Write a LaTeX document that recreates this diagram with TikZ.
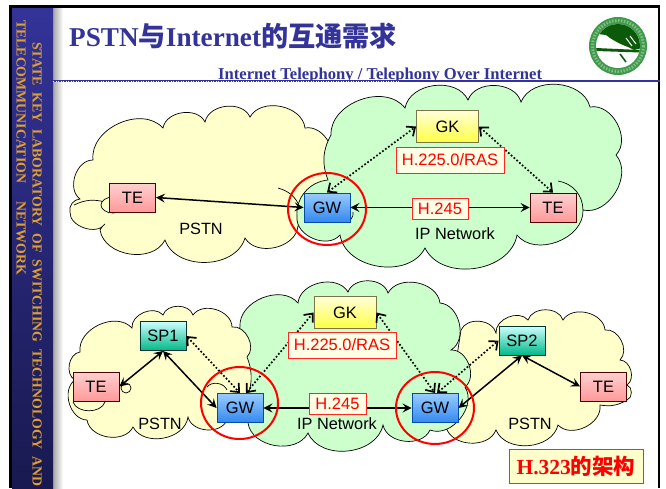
\documentclass[tikz,border=0pt]{standalone}
\usepackage{fontspec}
\setmainfont{Liberation Serif}
\newfontfamily\arialf{Liberation Sans}
\newfontfamily\cjkf{Noto Sans CJK SC}
\usetikzlibrary{arrows.meta,shadings}
\definecolor{navy}{HTML}{333399}
\definecolor{navyd}{HTML}{191950}
\definecolor{gold}{HTML}{E0A030}
\definecolor{cloudy}{HTML}{FFFFCC}
\definecolor{cloudg}{HTML}{CCFFCC}
\definecolor{logog}{HTML}{3F9A4A}
\definecolor{logod}{HTML}{0A5A0A}
\tikzset{
  bump/.style={bend left=72,looseness=1.05},
  ycloud/.style={draw=black,fill=cloudy,line width=0.7pt},
  gcloud/.style={draw=black,fill=cloudg,line width=0.7pt},
  crease/.style={draw=black,line width=0.7pt},
  box/.style={minimum width=46pt,minimum height=29pt,inner sep=0pt,line width=0.9pt,
    font=\arialf\fontsize{16.5}{18}\selectfont,text=black},
  pinkbox/.style={box,draw=black!70!red,top color=FFD0D0,bottom color=FF9999},
  bluebox/.style={box,draw=black!50!blue!70!cyan,top color=99CCFF,bottom color=3388F0},
  yellowbox/.style={box,draw=black!60!yellow,top color=FFFFD8,bottom color=FFFF44,minimum width=62pt,minimum height=32pt},
  tealbox/.style={box,draw=black!60!teal,top color=CCFFFF,bottom color=00B888},
  tag/.style={draw=red!85!white,fill=cloudy!50!white,text=red,line width=0.8pt,inner sep=0pt,
    font=\arialf\fontsize{16.5}{18}\selectfont},
  solidarrow/.style={{Stealth[length=9pt,width=9pt,inset=3.5pt]}-{Stealth[length=9pt,width=9pt,inset=3.5pt]},line width=1.5pt,black},
  dotarrow/.style={{Straight Barb[length=7pt,width=12pt]}-{Straight Barb[length=7pt,width=12pt]},line width=1.7pt,dash pattern=on 1.7pt off 2pt,black},
  ring/.style={draw=red,line width=2pt},
  netlabel/.style={font=\arialf\fontsize{16.3}{18}\selectfont,text=black,inner sep=0pt},
  sidetext/.style={rotate=-90,anchor=west,inner sep=0pt,text=gold,font=\bfseries\fontsize{13.8}{15}\selectfont},
}
\definecolor{FFD0D0}{HTML}{FFD0D0}
\definecolor{FF9999}{HTML}{FF9999}
\definecolor{99CCFF}{HTML}{99CCFF}
\definecolor{3388F0}{HTML}{3388F0}
\definecolor{FFFFD8}{HTML}{FFFFD8}
\definecolor{FFFF44}{HTML}{FFFF44}
\definecolor{CCFFFF}{HTML}{CCFFFF}
\definecolor{00B888}{HTML}{00B888}
\begin{document}
\begin{tikzpicture}[x=1pt,y=-1pt]
\useasboundingbox (0,0) rectangle (666,488);
\fill[white] (0,0) rectangle (666,488);
% frame
\shade[left color=black!35,right color=white] (53,8) rectangle (63,488);
\fill[black] (9,5) rectangle (660,8);
\fill[black] (658,5) rectangle (660,488);
\shade[top color=navy,bottom color=navyd] (12,8) rectangle (53,488);
\fill[black] (9,5) rectangle (12,488);
% sidebar text
\node[sidetext] (side1) at (37,42) {STATE\hspace{7pt}KEY\hspace{7pt}LABORATORY\hspace{7pt}OF\hspace{7pt}SWITCHING\hspace{7pt}TECHNOLOGY\hspace{7pt}AND};
\node[sidetext] (side2) at (21,20) {TELECOMMUNICATION\hspace{18pt}NETWORK};
% title
\node[anchor=base west,inner sep=0pt,text=navy,font=\bfseries\fontsize{27.2}{30}\selectfont] (title) at (69,46)
  {PSTN{\cjkf\bfseries 与}Internet{\cjkf\bfseries 的互通需求}};
\node[anchor=base west,inner sep=0pt,text=navy,font=\bfseries\fontsize{16.6}{18}\selectfont] (sub) at (218,79)
  {Internet Telephony / Telephony Over Internet};
\fill[white] (200,81) rectangle (600,90);
\draw[navy,line width=2.6pt] (53,81) -- (660,81);
\draw[white,line width=0.5pt,dash pattern=on 1pt off 1.5pt] (53,81) -- (400,81);
% logo
\fill[logog] (618,46) circle (29);
\draw[white!35!logog,line width=3pt,dash pattern=on 1.5pt off 1.5pt] (618,46) circle (25.5);
\fill[white] (618,46) circle (22);
\begin{scope}
\clip (618,46) circle (22);
\fill[logod] (598,34) -- (598,20) -- (642,20) -- (642,48) -- (634,50) -- (628,47) .. controls (622,45) and (612,40) .. (606,35) -- cycle;
\draw[white,line width=1pt] (636,44) -- (630,36);
\draw[white,line width=1pt] (632,46) -- (626,38);
\fill[logod] (596,48) -- (640,50) -- (640,52.5) -- (596,51) -- cycle;
\draw[logod,line width=1.6pt] (620,54) -- (626,62);
\end{scope}
% clouds: top
\draw[ycloud] (80,199) to[bump] (93,160) to[bump] (163,128) to[bump] (205,122) to[bump] (250,117) to[bump] (305,128)
  to[bump] (328,170) to[bump] (298,226) to[bump] (245,238) to[bump] (165,240) to[bump] (100,230) to[bend left=10] (105,224) to[bend left=75] (70,212) to[bend left=50] cycle;
\draw[crease] (74,205) to[bend left=20] (105,202);
\draw[crease] (278,188) to[bend left=25] (300,207);
\draw[ycloud] (113,205) ellipse (12 and 8);
\draw[gcloud] (331,135) to[bump] (405,108) to[bump] (468,100) to[bump] (521,102) to[bump] (590,107) to[bump] (616,155)
  to[bump] (583,210) to[bump] (517,235) to[bump] (425,248) to[bump] (340,235) to[bump] (297,217) to[bend left=45] (328,180) to[bend left=25] cycle;
\draw[crease] (558,181) to[bend left=40] (583,210);
\draw[crease] (353,212) to[bend left=50] (345,222);
% clouds: bottom
\draw[ycloud] (461,330) to[bump] (496,333) to[bump] (528,320) to[bump] (563,320) to[bump] (605,330) to[bump] (620,360)
  to[bump] (627,385) to[bump] (627,400) to[bend left=20] (600,405) to[bump] (558,425) to[bump] (496,430) to[bump] (446,427) -- cycle;
\draw[gcloud] (240,327) to[bump] (298,303) to[bump] (348,292) to[bump] (388,293) to[bump] (440,303) to[bump] (451,350) to[bump] (465,387)
  to[bump] (430,430) to[bump] (383,425) to[bump] (308,433) to[bump] (248,423) to[bend left=30] cycle;
\draw[ycloud] (80,352) to[bump] (132,328) to[bump] (163,315) to[bump] (193,315) to[bump] (232,327) to[bump] (247,357) to[bend left=40] (227,420)
  to[bump] (188,417) to[bump] (133,427) to[bump] (87,420) to[bump] (75,380) to[bump] cycle;
\draw[crease] (207,387) to[bend left=60] (227,390);
\draw[crease] (73,402) to[bend right=70] (105,402);
\draw[ycloud] (126,388) circle (5);
% top nodes
\node[pinkbox] (te1) at (132.5,197.5) {TE};
\node[bluebox] (gw1) at (327,207.5) {GW};
\node[yellowbox] (gk1) at (447.5,126.5) {GK};
\node[pinkbox] (te2) at (553,207.5) {TE};
% bottom nodes
\node[tealbox] (sp1) at (163,336) {SP1};
\node[pinkbox] (te3) at (96,386.5) {TE};
\node[bluebox] (gw2) at (240,408) {GW};
\node[yellowbox] (gk2) at (345,312.5) {GK};
\node[bluebox] (gw3) at (435,408) {GW};
\node[tealbox] (sp2) at (522,340.5) {SP2};
\node[pinkbox] (te4) at (603.5,386.5) {TE};
% connectors
\draw[solidarrow] (te1.east) -- (gw1.west);
\draw[dotarrow] (gw1.north) -- (gk1.west);
\draw[dotarrow] (gk1.east) -- (te2.north);
\draw[solidarrow] (gw1.east) -- (te2.west);
\draw[solidarrow] (te3.east) -- (sp1.south);
\draw[solidarrow] (sp1.south) -- (gw2.west);
\draw[dotarrow] (sp1.east) -- (gw2.north);
\draw[dotarrow] ([xshift=6pt]gw2.north) -- (gk2.west);
\draw[solidarrow] (gw2.east) -- (gw3.west);
\draw[dotarrow] (gk2.east) -- (gw3.north);
\draw[dotarrow] ([xshift=2pt]gw3.north) -- (sp2.west);
\draw[solidarrow] (gw3.east) -- (sp2.south);
\draw[solidarrow] (sp2.south) -- (te4.west);
% tags
\node[tag,minimum width=108pt,minimum height=26pt] (ras1) at (450,160) {H.225.0/RAS};
\node[tag,minimum width=56pt,minimum height=21pt] (h2451) at (440,208.5) {H.245};
\node[tag,minimum width=108pt,minimum height=26pt] (ras2) at (342,345) {H.225.0/RAS};
\node[tag,minimum width=57pt,minimum height=21pt] (h2452) at (337.5,403.5) {H.245};
% rings
\draw[ring] (327,209) ellipse (39 and 36);
\draw[ring] (239.5,403) ellipse (38.5 and 36);
\draw[ring] (435,408) ellipse (39 and 36);
% network labels
\node[netlabel] (p1) at (201,229) {PSTN};
\node[netlabel] (ip1) at (455,234) {IP Network};
\node[netlabel] (p2) at (160,424) {PSTN};
\node[netlabel] (ip2) at (337,424) {IP Network};
\node[netlabel] (p3) at (530,424) {PSTN};
% caption
\node[draw=red!85!white,fill=cloudy,line width=0.8pt,text=red,minimum width=134pt,minimum height=34pt,inner sep=0pt,
  font=\bfseries\fontsize{21.5}{24}\selectfont] (cap) at (576,466) {H.323{\cjkf\bfseries 的架构}};
\end{tikzpicture}
\end{document}
